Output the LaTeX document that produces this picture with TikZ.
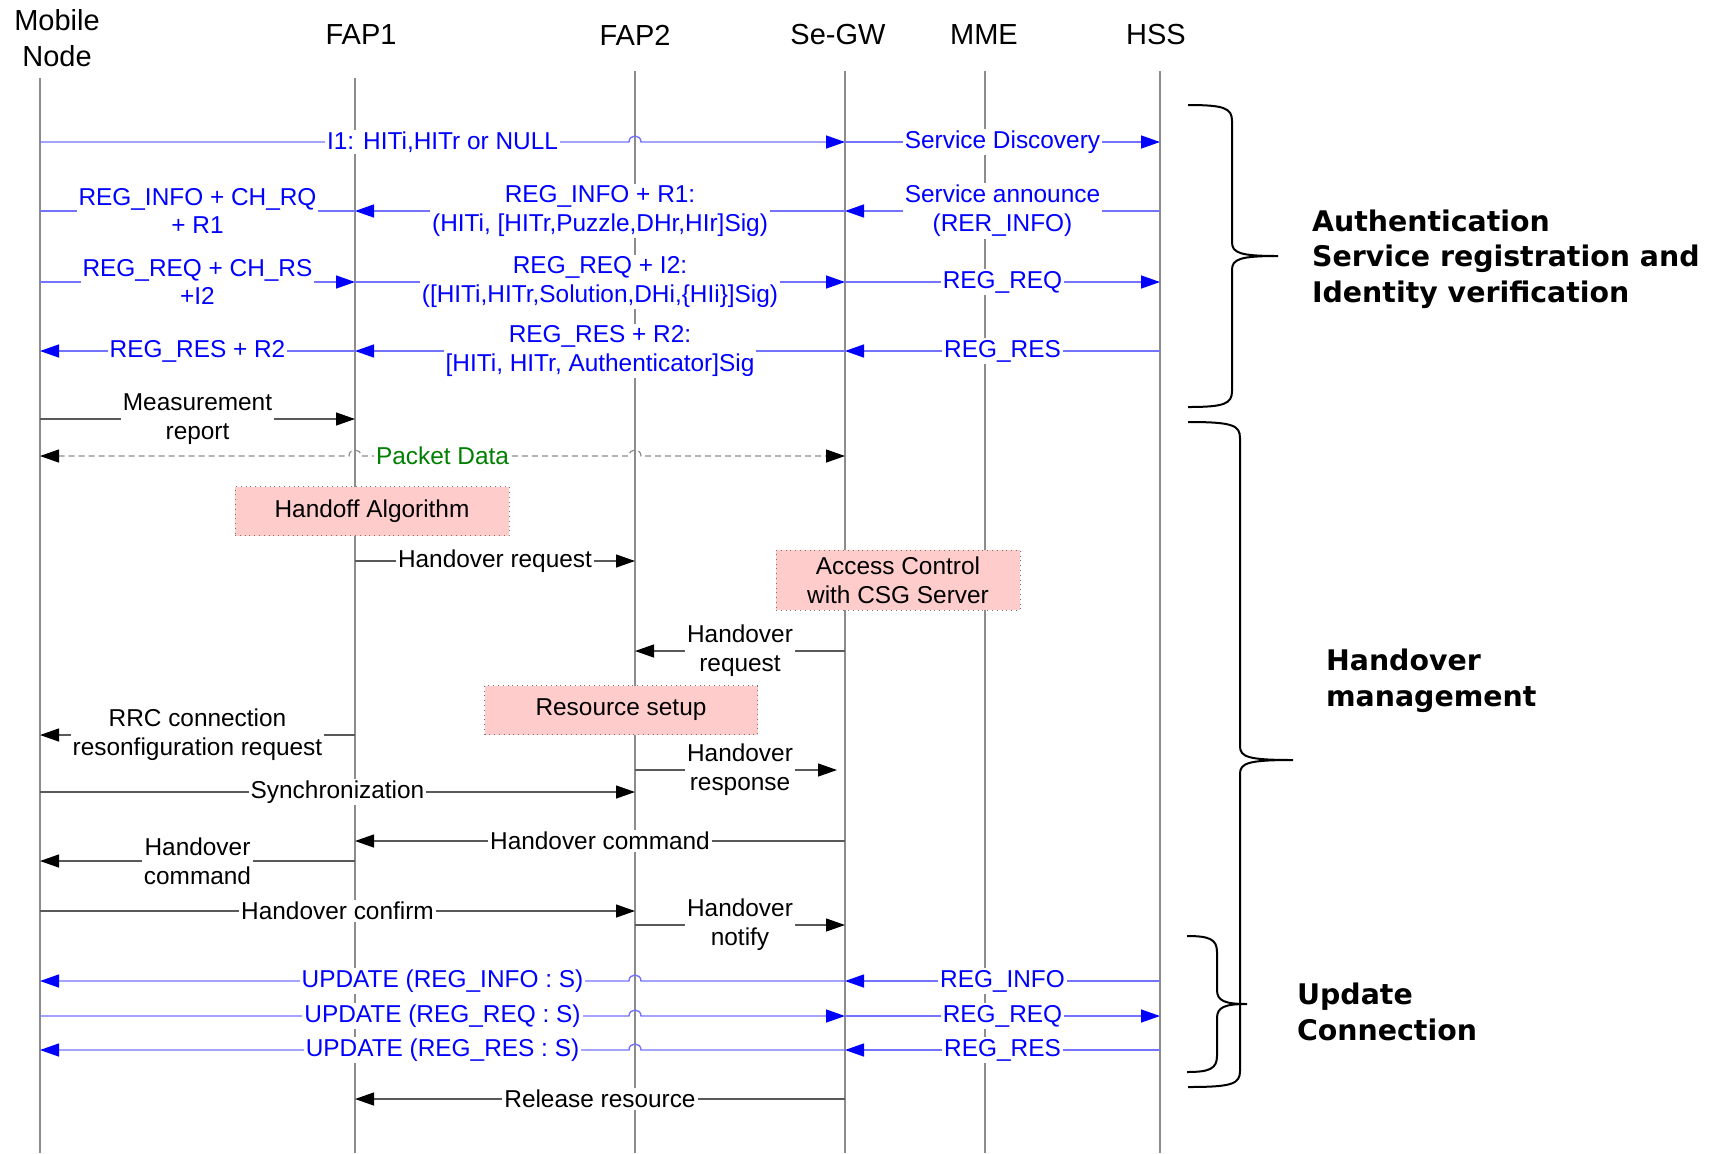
\documentclass[tikz,border=0pt]{standalone}
\usepackage{fontspec}
\setmainfont{Liberation Sans}
\newfontfamily\grpfont{DejaVu Sans}
\usetikzlibrary{arrows.meta,calc}

\newcommand{\msgsize}{\fontsize{12.2}{14.4}\selectfont}
\newcommand{\hdsize}{\fontsize{14.5}{17.8}\selectfont}
\newcommand{\grpsize}{\fontsize{14.2}{17.8}\selectfont}
% side brace: left end x, spine x, tip x, top y, tip y, bottom y
\newcommand{\grpbrace}[6]{%
  \draw[brc] (#1,#4) .. controls (#2-8,#4) and (#2,#4+3) .. (#2,#4+16)
    -- (#2,#5-14) .. controls (#2,#5-3) and (#2+8,#5) .. (#3,#5)
    .. controls (#2+8,#5) and (#2,#5+3) .. (#2,#5+14)
    -- (#2,#6-16) .. controls (#2,#6-3) and (#2-8,#6) .. (#1,#6);}

\tikzset{life/.style = {draw=black!45, line width=0.8pt},
         msg/.style  = {draw=black!65, line width=0.6pt, -{Triangle[length=9.5pt,width=6.5pt,color=black]}},
         umsg/.style = {draw=blue!55, line width=0.7pt, -{Triangle[length=9.5pt,width=6.5pt,color=blue]}},
         pkt/.style  = {draw=black!45, densely dashed, line width=0.6pt,
                        {Triangle[length=9.5pt,width=6.5pt,color=black]}-{Triangle[length=9.5pt,width=6.5pt,color=black]}},
         lbl/.style  = {fill=white, inner sep=1pt, align=center, font=\msgsize},
         ulbl/.style = {lbl, text=blue},
         hd/.style   = {align=center, font=\hdsize},
         proc/.style = {fill=red!20, draw=black!55, dotted, align=center, font=\msgsize},
         grp/.style  = {anchor=west, align=left, font=\grpfont\bfseries\grpsize},
         brc/.style  = {line width=1pt}}

\begin{document}
\begin{tikzpicture}[x=0.5pt, y=-0.5pt]
    \useasboundingbox (0,0) rectangle (1720,1153);
    \node[hd] (hmn) at (57,38) {Mobile\\Node};
    \node[hd] (hfap1) at (361,35) {FAP1}; \node[hd] (hfap2) at (635,35) {FAP2};
    \node[hd] (hsegw) at (838,35) {Se-GW}; \node[hd] (hmme) at (984,35) {MME};
    \node[hd] (hhss) at (1156,35) {HSS};
    \coordinate (mn) at (40,78); \coordinate (fap1) at (355,78); \coordinate (fap2) at (635,71);
    \coordinate (segw) at (845,71); \coordinate (mme) at (985,71); \coordinate (hss) at (1160,71);
    \coordinate (bot) at (0,1153);
    \foreach \n/\y in {1/142, 2/211, 3/282, 4/351, 5/419, 6/456, 7/561, 8/651, 9/735, 10/770,
                       11/792, 12/841, 13/861, 14/911, 15/925, 16/981, 17/1016, 18/1050, 19/1099}
      \coordinate (r\n) at (0,\y);
    \foreach \l in {mn, fap1, fap2, segw, mme, hss}
      \draw[life] (\l) -- (\l |- bot);

    % authentication
    \draw[umsg] (mn|-r1) -- ($(fap2|-r1)+(-6,0)$) .. controls +(0,-8) and +(0,-8) .. ($(fap2|-r1)+(6,0)$) -- (segw|-r1);
    \node[ulbl] at ($(mn|-r1)!.5!(segw|-r1)$) {I1: HITi,HITr or NULL};
    \draw[umsg] (segw|-r1) -- node[ulbl]{Service Discovery} (hss|-r1);
    \draw[umsg] (hss|-r2) -- node[ulbl]{Service announce\\(RER\_INFO)} (segw|-r2);
    \draw[umsg] (segw|-r2) -- node[ulbl]{REG\_INFO + R1:\\(HITi, [HITr,Puzzle,DHr,HIr]Sig)} (fap1|-r2);
    \draw[umsg, -] (fap1|-r2) -- node[ulbl]{REG\_INFO + CH\_RQ\\+ R1} (mn|-r2);
    \draw[umsg] (mn|-r3) -- node[ulbl]{REG\_REQ + CH\_RS\\+I2} (fap1|-r3);
    \draw[umsg] (fap1|-r3) -- node[ulbl]{REG\_REQ + I2:\\([HITi,HITr,Solution,DHi,\{HIi\}]Sig)} (segw|-r3);
    \draw[umsg] (segw|-r3) -- node[ulbl]{REG\_REQ} (hss|-r3);
    \draw[umsg] (hss|-r4) -- node[ulbl]{REG\_RES} (segw|-r4);
    \draw[umsg] (segw|-r4) -- node[ulbl]{REG\_RES + R2:\\{}[HITi, HITr, Authenticator]Sig} (fap1|-r4);
    \draw[umsg] (fap1|-r4) -- node[ulbl]{REG\_RES + R2} (mn|-r4);

    % handover
    \draw[msg] (mn|-r5) -- node[lbl]{Measurement\\report} (fap1|-r5);
    \draw[pkt] (mn|-r6) -- ($(fap1|-r6)+(-6,0)$) .. controls +(0,-8) and +(0,-8) .. ($(fap1|-r6)+(6,0)$)
      -- ($(fap2|-r6)+(-6,0)$) .. controls +(0,-8) and +(0,-8) .. ($(fap2|-r6)+(6,0)$) -- (segw|-r6);
    \node[lbl, text=green!50!black] at ($(mn|-r6)!.5!(segw|-r6)$) {Packet Data};
    \node[proc, minimum width=137pt, minimum height=24.5pt] (algo) at (372,511) {Handoff Algorithm};
    \draw[msg] (fap1|-r7) -- node[lbl]{Handover request} (fap2|-r7);
    \node[proc, minimum width=122pt, minimum height=30pt] (acc) at (898,580) {Access Control\\with CSG Server};
    \draw[msg] (segw|-r8) -- node[lbl]{Handover\\request} (fap2|-r8);
    \node[proc, minimum width=136.5pt, minimum height=24.5pt] (rsc) at (621,710) {Resource setup};
    \draw[msg] (fap1|-r9) -- node[lbl]{RRC connection\\resonfiguration request} (mn|-r9);
    \draw[msg, shorten >=4pt] (fap2|-r10) -- node[lbl]{Handover\\response} (segw|-r10);
    \draw[msg] (mn|-r11) -- node[lbl]{Synchronization} (fap2|-r11);
    \draw[msg] (segw|-r12) -- node[lbl]{Handover command} (fap1|-r12);
    \draw[msg] (fap1|-r13) -- node[lbl]{Handover\\command} (mn|-r13);
    \draw[msg] (mn|-r14) -- node[lbl]{Handover confirm} (fap2|-r14);
    \draw[msg] (fap2|-r15) -- node[lbl]{Handover\\notify} (segw|-r15);

    % update
    \draw[umsg] (segw|-r16) -- ($(fap2|-r16)+(6,0)$) .. controls +(0,-8) and +(0,-8) .. ($(fap2|-r16)+(-6,0)$) -- (mn|-r16);
    \node[ulbl] at ($(mn|-r16)!.5!(segw|-r16)$) {UPDATE (REG\_INFO : S)};
    \draw[umsg] (hss|-r16) -- node[ulbl]{REG\_INFO} (segw|-r16);
    \draw[umsg] (mn|-r17) -- ($(fap2|-r17)+(-6,0)$) .. controls +(0,-8) and +(0,-8) .. ($(fap2|-r17)+(6,0)$) -- (segw|-r17);
    \node[ulbl] at ($(mn|-r17)!.5!(segw|-r17)$) {UPDATE (REG\_REQ : S)};
    \draw[umsg] (segw|-r17) -- node[ulbl]{REG\_REQ} (hss|-r17);
    \draw[umsg] (segw|-r18) -- ($(fap2|-r18)+(6,0)$) .. controls +(0,-8) and +(0,-8) .. ($(fap2|-r18)+(-6,0)$) -- (mn|-r18);
    \node[ulbl] at ($(mn|-r18)!.5!(segw|-r18)$) {UPDATE (REG\_RES : S)};
    \draw[umsg] (hss|-r18) -- node[ulbl]{REG\_RES} (segw|-r18);
    \draw[msg] (segw|-r19) -- node[lbl]{Release resource} (fap1|-r19);

    % groups
    \grpbrace{1188}{1232}{1278}{105}{256}{407}
    \grpbrace{1188}{1240}{1293}{422}{760}{1087}
    \grpbrace{1187}{1217}{1247}{936}{1004}{1072}
    \node[grp] (auth) at (1305,259) {Authentication\\Service registration and\\Identity verification};
    \node[grp] (hom) at (1319,681) {Handover\\management};
    \node[grp] (upd) at (1290,1012) {Update\\Connection};
\end{tikzpicture}
\end{document}
